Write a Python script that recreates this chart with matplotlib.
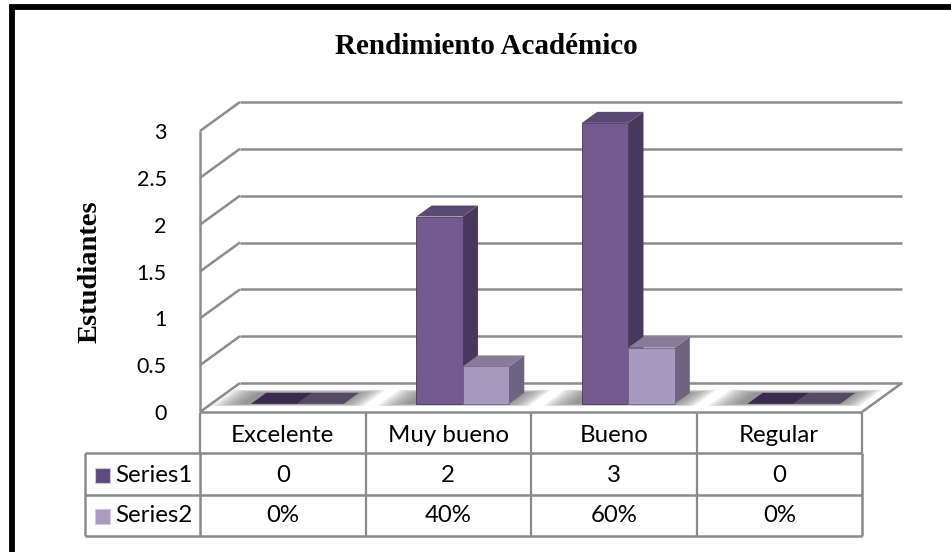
import matplotlib
matplotlib.use("Agg")
import matplotlib.pyplot as plt
import numpy as np
from matplotlib.patches import Polygon, Rectangle
from matplotlib.lines import Line2D

# ---------------- data ----------------
categories = ["Excelente", "Muy bueno", "Bueno", "Regular"]
series_names = ["Series1", "Series2"]
series1 = [0, 2, 3, 0]
series2 = [0.0, 0.4, 0.6, 0.0]
series1_labels = ["0", "2", "3", "0"]
series2_labels = ["0%", "40%", "60%", "0%"]
yticks = [0, 0.5, 1, 1.5, 2, 2.5, 3]
ytick_labels = ["0", "0.5", "1", "1.5", "2", "2.5", "3"]
title = "Rendimiento Académico"
ylabel = "Estudiantes"

# ---------------- style ----------------
W, H = 951, 552
DPI = 100
fig = plt.figure(figsize=(W / DPI, H / DPI), dpi=DPI)
fig.patch.set_facecolor("white")

GRID = "#8c8c8c"
front_cols = ["#735a8f", "#a899be"]
side_cols = ["#48395c", "#6e6482"]
top_cols = ["#5b4877", "#877b99"]
zero_top_cols = ["#3a2b4e", "#544a62"]
key_cols = ["#5f4a7e", "#a89bc0"]

DEPTH_DX, DEPTH_DY = 40.0, 29.0   # pixel offset of the back wall
D0, D1 = 0.28, 0.66                # bar depth range (fraction)

# front plane axes: x categories, y values
x0, x1 = 200, 862
y0, y1 = 412, 131
ax = fig.add_axes([x0 / W, (H - y0) / H, (x1 - x0) / W, (y0 - y1) / H])
ax.set_xlim(-0.5, len(categories) - 0.5)
ax.set_ylim(0, 3)
for s in ax.spines.values():
    s.set_visible(False)
ax.set_facecolor("none")
ax.set_xticks([])
ax.set_yticks(yticks)
ax.set_yticklabels(ytick_labels, fontsize=15.5, family="Lato")
ax.tick_params(axis="y", length=0, pad=24)

T = ax.transData


def disp(x, y, d):
    px, py = T.transform((x, y))
    return (px + d * DEPTH_DX, py + d * DEPTH_DY)


def add_poly(pts, fc, ec="none", lw=0, z=2, alpha=1.0):
    p = Polygon(pts, closed=True, facecolor=fc, edgecolor=ec, linewidth=lw,
                transform=None, zorder=z, alpha=alpha)
    fig.add_artist(p)
    return p


def add_line(pts, color=GRID, lw=1.8, z=1):
    xs, ys = zip(*pts)
    fig.add_artist(Line2D(xs, ys, color=color, linewidth=lw, transform=None,
                          zorder=z, solid_capstyle="butt"))


xmin, xmax = -0.5, len(categories) - 0.5

# back wall gridlines and left side wall diagonals
for v in yticks:
    add_line([disp(xmin, v, 1), disp(xmax, v, 1)])
    add_line([disp(xmin, v, 0), disp(xmin, v, 1)])
# front left vertical axis line
add_line([disp(xmin, 0, 0), disp(xmin, 3, 0)])
# floor outline
add_line([disp(xmin, 0, 0), disp(xmax, 0, 0)])
add_line([disp(xmax, 0, 0), disp(xmax, 0, 1)])

# ---------------- bars ----------------
bw = 0.28
shift = 0.02
for i in range(len(categories)):
    vals = [series1[i], series2[i]]
    # soft blurred shadow on the floor
    xl = i + shift - bw
    xr = i + shift + bw
    for k in np.linspace(0.17, 0.0, 10):
        kd = k * 0.9
        pts = [disp(xl - k - 0.05, 0, D0 - kd * 0.5), disp(xr + k * 0.8, 0, D0 - kd * 0.5),
               disp(xr + k * 0.8, 0, D1 + kd * 0.7), disp(xl - k - 0.05, 0, D1 + kd * 0.7)]
        add_poly(pts, "#6a6a6a", z=2, alpha=0.11)
    for j, v in enumerate(vals):
        a = i + shift - bw + j * bw
        b = a + bw
        if v <= 0:
            top = [disp(a, 0, D0), disp(b, 0, D0), disp(b, 0, D1), disp(a, 0, D1)]
            add_poly(top, zero_top_cols[j], z=3 + j)
            continue
        z = 4 + j
        front = [disp(a, 0, D0), disp(b, 0, D0), disp(b, v, D0), disp(a, v, D0)]
        side = [disp(b, 0, D0), disp(b, 0, D1), disp(b, v, D1), disp(b, v, D0)]
        topf = [disp(a, v, D0), disp(b, v, D0), disp(b, v, D1), disp(a, v, D1)]
        add_poly(side, side_cols[j], z=z)
        add_poly(front, front_cols[j], ec=side_cols[j], lw=0.6, z=z)
        add_poly(topf, top_cols[j], z=z)

# ---------------- data table ----------------
TBL = "#8a8a8a"
row_top = [413, 453, 495]
row_bot = [453, 495, 536]
col_x = [disp(c - 0.5, 0, 0)[0] for c in range(len(categories) + 1)]
leg_left = 85


def fy(py):
    return H - py


# header row
add_line([(col_x[0], fy(row_top[0])), (col_x[0], fy(row_bot[0]))], TBL, 1.6, 6)
add_line([(col_x[-1], fy(row_top[0])), (col_x[-1], fy(row_bot[0]))], TBL, 1.6, 6)
for c in range(1, len(categories)):
    add_line([(col_x[c], fy(row_top[0])), (col_x[c], fy(row_bot[2]))], TBL, 1.6, 6)
# series rows
for py in [row_bot[0], row_bot[1], row_bot[2]]:
    add_line([(leg_left, fy(py)), (col_x[-1], fy(py))], TBL, 1.8, 6)
add_line([(leg_left, fy(row_top[1])), (leg_left, fy(row_bot[2]))], TBL, 1.8, 6)
add_line([(col_x[0], fy(row_top[1])), (col_x[0], fy(row_bot[2]))], TBL, 1.8, 6)
add_line([(col_x[-1], fy(row_top[1])), (col_x[-1], fy(row_bot[2]))], TBL, 1.8, 6)

tkw = dict(fontsize=17.3, family="Lato", ha="center", va="center",
           color="black", zorder=7)
for c, name in enumerate(categories):
    cx = (col_x[c] + col_x[c + 1]) / 2
    fig.text(cx / W, fy(436) / H, name, **tkw)
    fig.text(cx / W, fy(475) / H, series1_labels[c], **tkw)
    fig.text(cx / W, fy(516) / H, series2_labels[c], **tkw)

for r, name in enumerate(series_names):
    cy = [475, 516][r]
    fig.add_artist(Rectangle((95, fy(cy + 7.5)), 15, 15, transform=None,
                             facecolor=key_cols[r], edgecolor="#d0c8dc",
                             linewidth=0.8, zorder=7))
    fig.text(115 / W, fy(cy) / H, name, fontsize=17.3, family="Lato",
             ha="left", va="center", zorder=7)

# ---------------- titles ----------------
fig.text(486 / W, fy(47) / H, title, fontsize=21, family="Liberation Serif",
         fontweight="bold", ha="center", va="center")
fig.text(90 / W, fy(272) / H, ylabel, fontsize=20.5, family="Liberation Serif",
         fontweight="bold", ha="center", va="center", rotation=90)

# outer border (continues beyond right/bottom edges)
fig.add_artist(Rectangle((12, -20), W + 40, H + 20 - 6.5, transform=None,
                         facecolor="none", edgecolor="black", linewidth=4.2,
                         zorder=10))

fig.savefig("out.png", dpi=DPI, facecolor="white")
